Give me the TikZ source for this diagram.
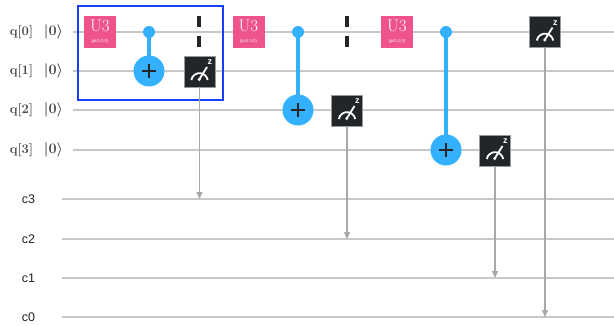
\documentclass[tikz,border=0pt]{standalone}
\usepackage{fontspec}
\newfontfamily\lsans{Liberation Sans}
\usetikzlibrary{arrows.meta}
\definecolor{u3col}{HTML}{EE538B}
\definecolor{cnotcol}{HTML}{33B1FF}
\definecolor{meascol}{HTML}{222628}
\definecolor{wirecol}{HTML}{C8C8C8}
\definecolor{clcol}{HTML}{A8A8A8}
\definecolor{boxcol}{HTML}{1740F5}
\definecolor{qlab}{HTML}{474747}
\definecolor{clab}{HTML}{222222}
\tikzset{
  wire/.style={draw=wirecol,line width=1.8pt},
  qlabel/.style={text=qlab,font=\fontsize{13}{14}\selectfont\bfseries,inner sep=0pt},
  ketlabel/.style={text=qlab,font=\fontsize{13.5}{14}\selectfont\boldmath,inner sep=0pt},
  clabel/.style={text=clab,font=\lsans\fontsize{12.5}{14}\selectfont,inner sep=0pt},
  u3gate/.style={rectangle,fill=u3col,minimum size=32pt,inner sep=0pt},
  u3title/.style={text=white,font=\fontsize{17}{17}\selectfont,inner sep=0pt},
  u3par/.style={text=white!90!u3col,font=\lsans\fontsize{4.3}{5}\selectfont,inner sep=0pt},
  ctrldot/.style={circle,fill=cnotcol,minimum size=12pt,inner sep=0pt},
  targ/.style={circle,fill=cnotcol,minimum size=31pt,inner sep=0pt},
  cline/.style={draw=cnotcol,line width=3.6pt},
  plus/.style={draw=black!85,line width=1.7pt},
  barrierline/.style={draw=meascol,line width=4.2pt,dash pattern=on 11pt off 9pt},
  measbox/.style={rectangle,fill=meascol,draw=black!40,line width=0.5pt,minimum size=31pt,inner sep=0pt},
  meter/.style={draw=white,line width=1.8pt},
  zlab/.style={text=white,font=\lsans\bfseries\fontsize{9}{9}\selectfont,inner sep=0pt},
  measarrow/.style={draw=clcol,line width=1.3pt,-{Triangle[width=6pt,length=7pt]}},
  selbox/.style={draw=boxcol,line width=1.6pt}
}
\newcommand\meterin[1]{%
  \begin{scope}[shift={(#1.center)}]
    \draw[meter] (-8.2,-8.5) arc[start angle=170,end angle=10,radius=8.3];
    \draw[meter] (-0.3,-8) -- (7.5,4.5);
    \fill[white] (-0.3,-8) circle (1.6pt);
    \node[zlab] (#1z) at (10.4,9.2) {z};
  \end{scope}}
\begin{document}
\begin{tikzpicture}[x=1pt,y=1pt]
\useasboundingbox[fill=white] (0,0) rectangle (614,-325);
% wire end points
\foreach \n/\y in {0/32,1/71,2/110,3/150}{
  \coordinate (q\n s) at (73,-\y);
  \coordinate (q\n e) at (614,-\y);
}
\foreach \n/\y in {3/199,2/239,1/278,0/317}{
  \coordinate (c\n s) at (62,-\y);
  \coordinate (c\n e) at (614,-\y);
}
\foreach \n in {0,1,2,3}{
  \draw[wire] (q\n s) -- (q\n e);
  \draw[wire] (c\n s) -- (c\n e);
}
% labels
\foreach \n/\y in {0/32,1/71,2/110,3/150}{
  \node[qlabel] (ql\n) at (21.5,-\y) {q[\n]};
  \node[ketlabel] (kl\n) at (53.5,-\y) {$|0\rangle$};
}
\foreach \n/\y in {3/199,2/239,1/278,0/317}{
  \node[clabel] (cl\n) at (28.5,-\y) {c\n};
}
% selection box
\coordinate (sb1) at (78,-6);
\coordinate (sb2) at (223,-100);
\draw[selbox] (sb1) rectangle (sb2);
% U3 gates
\foreach \i/\x/\p in {1/100/{(pi/3,0,0)},2/248.5/{(pi/4,0,0)},3/397/{(pi/4,0,0)}}{
  \node[u3gate] (u\i) at (\x,-32) {};
  \node[u3title] (u\i a) at ([yshift=6.5pt]u\i.center) {U3};
  \node[u3par] (u\i b) at ([yshift=-9.5pt]u\i.center) {\p};
}
% CNOTs
\foreach \i/\x/\t in {1/149/71,2/298/110,3/446/150}{
  \coordinate (cc\i) at (\x,-32);
  \coordinate (tt\i) at (\x,-\t);
  \draw[cline] (cc\i) -- (tt\i);
  \node[ctrldot] (ctl\i) at (cc\i) {};
  \node[targ] (tg\i) at (tt\i) {};
  \draw[plus] ([xshift=-7pt]tg\i.center) -- ([xshift=7pt]tg\i.center);
  \draw[plus] ([yshift=-7pt]tg\i.center) -- ([yshift=7pt]tg\i.center);
}
% barriers
\foreach \i/\x in {1/199,2/347}{
  \coordinate (bt\i) at (\x,-16);
  \coordinate (bb\i) at (\x,-47);
  \draw[barrierline] (bt\i) -- (bb\i);
}
% measurements
\node[measbox] (m1) at (199.5,-71.5) {};
\node[measbox] (m2) at (347,-110.5) {};
\node[measbox] (m3) at (495,-150.5) {};
\node[measbox] (m4) at (545,-32) {};
\meterin{m1}\meterin{m2}\meterin{m3}\meterin{m4}
\draw[measarrow] (m1.south) -- (m1.south |- c3s);
\draw[measarrow] (m2.south) -- (m2.south |- c2s);
\draw[measarrow] (m3.south) -- (m3.south |- c1s);
\draw[measarrow] (m4.south) -- (m4.south |- c0s);
\end{tikzpicture}
\end{document}
